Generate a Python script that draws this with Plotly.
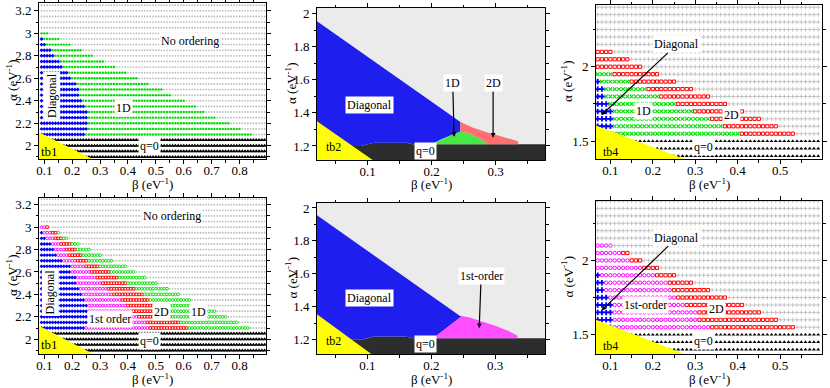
import numpy as np
import plotly.graph_objects as go
from plotly.subplots import make_subplots

FONT = "Liberation Serif, Times New Roman, serif"

# ---------------- tb1 panels (left column): one entry per alpha row ----------------
TB1_PHASE_ALPHA = [3.00, 2.95, 2.90, 2.85, 2.80, 2.75, 2.70, 2.65, 2.60, 2.55,
                   2.50, 2.45, 2.40, 2.35, 2.30, 2.25, 2.20, 2.15, 2.10]
# last beta of each phase in that row (top panel)
TB1_DIAG_END = [0.08, 0.09, 0.10, 0.12, 0.13, 0.15, 0.16, 0.18, 0.19, 0.21,
                0.22, 0.22, 0.23, 0.24, 0.25, 0.25, 0.25, 0.25, 0.24]
TB1_1D_END = [0.11, 0.15, 0.19, 0.23, 0.27, 0.31, 0.35, 0.39, 0.43, 0.47,
              0.52, 0.55, 0.60, 0.64, 0.67, 0.71, 0.76, 0.80, 0.84]
# bottom panel
TB1B_DIAG_END = [0.08, 0.09, 0.10, 0.12, 0.13, 0.14, 0.16, 0.19, 0.19, 0.21,
                 0.21, 0.22, 0.23, 0.24, 0.25, 0.25, 0.25, 0.25, 0.24]
TB1B_FIRST_END = [0.10, 0.12, 0.13, 0.15, 0.17, 0.18, 0.21, 0.24, 0.26, 0.28,
                  0.30, 0.32, 0.34, 0.37, 0.39, 0.41, 0.43, 0.46, 0.47]
TB1B_2D_END = [0.11, 0.14, 0.16, 0.19, 0.21, 0.23, 0.25, 0.29, 0.33, 0.36,
               0.39, 0.42, 0.45, 0.47, 0.49, 0.52, 0.55, 0.58, 0.61]
TB1B_1D_END = [0.11, 0.15, 0.18, 0.22, 0.26, 0.30, 0.34, 0.39, 0.42, 0.46,
               0.50, 0.54, 0.58, 0.62, 0.66, 0.71, 0.75, 0.79, 0.83]
TB1_Q0_ALPHA = [2.05, 2.00, 1.95, 1.90]

# ---------------- tb4 panels (right column) ----------------
TB4_PHASE_ALPHA = [2.10, 2.05, 2.00, 1.95, 1.90, 1.85, 1.80, 1.75, 1.70, 1.65, 1.60, 1.55]
TB4_DIAG_END = [0.06, 0.06, 0.06, 0.06, 0.07, 0.08, 0.08, 0.09, 0.10, 0.10, 0.10, 0.10]
TB4_1D_END = [0.06, 0.06, 0.06, 0.10, 0.14, 0.18, 0.21, 0.25, 0.29, 0.33, 0.36, 0.40]
TB4_2D_END = [0.10, 0.14, 0.17, 0.21, 0.25, 0.29, 0.33, 0.37, 0.41, 0.45, 0.49, 0.53]
TB4B_FIRST_END = [0.10, 0.12, 0.14, 0.17, 0.20, 0.23, 0.24, 0.25, 0.27, 0.30, 0.30, 0.33]
TB4_Q0_ALPHA = [1.50, 1.45, 1.40]

# ---------------- tb2 panels (middle column): phase boundaries ----------------
TB2_Q0_BETA = [0.021, 0.09, 0.10, 0.11, 0.16, 0.17, 0.378]
TB2_Q0_ALPHA = [1.20, 1.20, 1.21, 1.22, 1.22, 1.21, 1.21]
TB2_DIAG_BETA = [0.021, 0.245]
TB2_DIAG_ALPHA = [1.955, 1.345]
TB2_1D_BETA = [0.20, 0.215, 0.23, 0.245, 0.26, 0.275, 0.288]
TB2_1D_ALPHA = [1.21, 1.24, 1.265, 1.288, 1.275, 1.245, 1.21]
TB2_2D_BETA = [0.245, 0.265, 0.285, 0.30, 0.32, 0.335, 0.335]
TB2_2D_ALPHA = [1.345, 1.31, 1.285, 1.267, 1.245, 1.228, 1.21]
TB2_FIRST_BETA = [0.203, 0.22, 0.235, 0.248, 0.26, 0.28, 0.30, 0.32, 0.335, 0.335]
TB2_FIRST_ALPHA = [1.21, 1.26, 1.305, 1.345, 1.335, 1.31, 1.285, 1.255, 1.225, 1.21]

# panel boxes in pixels (left, right, top, bottom) and axis ranges
W, H = 830, 388
BOXES = {1: (39, 266, 3, 159), 2: (317, 545, 8, 160), 3: (596, 822, 5, 159),
         4: (39, 266, 198, 354), 5: (317, 545, 203, 354), 6: (596, 822, 201, 354)}
XRANGES = {1: [0.081, 0.895], 2: [0.021, 0.377], 3: [0.066, 0.599],
           4: [0.081, 0.895], 5: [0.021, 0.378], 6: [0.066, 0.599]}
YRANGES = {1: [1.882, 3.27], 2: [1.115, 2.035], 3: [1.38, 2.415],
           4: [1.868, 3.26], 5: [1.114, 2.03], 6: [1.37, 2.40]}

BLUE, GREEN, RED, MAGENTA = "#0000ff", "#00dd00", "#ff0000", "#ff00ff"


def lattice(beta, rows, phase_rows, ends, q0_rows):
    # sort lattice points into phases; last two groups are "no ordering" and q=0
    n = len(ends)
    xs = [[] for _ in range(n + 2)]
    ys = [[] for _ in range(n + 2)]
    for a in rows:
        for b in beta:
            if a in q0_rows:
                k = n + 1
            elif a in phase_rows:
                i = phase_rows.index(a)
                k = next((j for j in range(n) if b <= ends[j][i] + 1e-6), n)
            else:
                k = n
            xs[k].append(b)
            ys[k].append(a)
    return xs, ys


def add_points(fig, xs, ys, styles, row, col):
    for x, y, st in zip(xs, ys, styles):
        if not x:
            continue
        fig.add_trace(go.Scatter(x=x, y=y, mode="markers", marker=st, hoverinfo="skip"),
                      row=row, col=col)


def add_region(fig, bx, by, fg, bg, row, col):
    fig.add_trace(go.Scatter(x=bx, y=by, mode="lines", fill="toself", line=dict(width=0),
                             fillcolor=bg,
                             fillpattern=dict(shape="|", fgcolor=fg, bgcolor=bg, size=2,
                                              solidity=0.5, fillmode="replace"),
                             hoverinfo="skip"), row=row, col=col)


fig = make_subplots(rows=2, cols=3)

# ---- left column ----
tb1_beta = [round(b, 2) for b in np.arange(0.09, 0.895, 0.01)]
tb1_rows = [round(a, 2) for a in np.arange(1.90, 3.26, 0.05)]
small = dict(gray=dict(symbol="circle", size=1.8, color="#bcbcbc"),
             q0=dict(symbol="triangle-up", size=4, color="black"),
             diag=dict(symbol="diamond", size=3, color=BLUE),
             one=dict(symbol="circle", size=2.4, color=GREEN),
             first=dict(symbol="circle-open", size=2.8, color=MAGENTA, line=dict(width=0.9)),
             two=dict(symbol="square-open", size=2.6, color=RED, line=dict(width=0.9)),
             oneo=dict(symbol="circle-open", size=2.8, color=GREEN, line=dict(width=0.9)))

xs, ys = lattice(tb1_beta, tb1_rows, TB1_PHASE_ALPHA, [TB1_DIAG_END, TB1_1D_END], TB1_Q0_ALPHA)
order = [2, 3, 0, 1]
add_points(fig, [xs[k] for k in order], [ys[k] for k in order],
           [small["gray"], small["q0"], small["diag"], small["one"]], 1, 1)

xs, ys = lattice(tb1_beta, tb1_rows, TB1_PHASE_ALPHA,
                 [TB1B_DIAG_END, TB1B_FIRST_END, TB1B_2D_END, TB1B_1D_END], TB1_Q0_ALPHA)
order = [4, 5, 0, 1, 2, 3]
add_points(fig, [xs[k] for k in order], [ys[k] for k in order],
           [small["gray"], small["q0"], small["diag"], small["first"], small["two"], small["oneo"]], 2, 1)

# ---- right column ----
tb4_beta = [round(b, 2) for b in np.arange(0.07, 0.595, 0.01)]
tb4_rows = [round(a, 2) for a in np.arange(1.40, 2.41, 0.05)]
big = dict(gray=dict(symbol="cross-thin-open", size=3, color="#b8b8b8", line=dict(width=0.8)),
           q0=dict(symbol="triangle-up", size=3.5, color="black"),
           diag=dict(symbol="cross", size=4.6, color=BLUE),
           one=dict(symbol="x-thin-open", size=3.6, color=GREEN, line=dict(width=1.1)),
           first=dict(symbol="circle-open", size=3.4, color=MAGENTA, line=dict(width=1)),
           two=dict(symbol="square-open", size=3.2, color=RED, line=dict(width=1)))

xs, ys = lattice(tb4_beta, tb4_rows, TB4_PHASE_ALPHA, [TB4_DIAG_END, TB4_1D_END, TB4_2D_END], TB4_Q0_ALPHA)
order = [3, 4, 0, 1, 2]
add_points(fig, [xs[k] for k in order], [ys[k] for k in order],
           [big["gray"], big["q0"], big["diag"], big["one"], big["two"]], 1, 3)

xs, ys = lattice(tb4_beta, tb4_rows, TB4_PHASE_ALPHA, [TB4_DIAG_END, TB4B_FIRST_END, TB4_2D_END], TB4_Q0_ALPHA)
add_points(fig, [xs[k] for k in order], [ys[k] for k in order],
           [big["gray"], big["q0"], big["diag"], big["first"], big["two"]], 2, 3)

# ---- middle column (dense lattice drawn as striped regions) ----
for row in (1, 2):
    p = 2 if row == 1 else 5
    x0, x1 = XRANGES[p]
    y0, y1 = YRANGES[p]
    add_region(fig, [x0, x1, x1, x0], [y0, y0, y1, y1], "#d8d8d8", "#ffffff", row, 2)
    add_region(fig, TB2_Q0_BETA + [x1, x0], TB2_Q0_ALPHA + [y0, y0], "#000000", "#5a5a5a", row, 2)
    if row == 1:
        edge_b, edge_a = TB2_1D_BETA[:4][::-1], TB2_1D_ALPHA[:4][::-1]
    else:
        edge_b, edge_a = TB2_FIRST_BETA[:4][::-1], TB2_FIRST_ALPHA[:4][::-1]
    q0_left = [(b, a) for b, a in zip(TB2_Q0_BETA, TB2_Q0_ALPHA) if b < edge_b[-1]][::-1]
    blue_b = TB2_DIAG_BETA + edge_b + [b for b, _ in q0_left]
    blue_a = TB2_DIAG_ALPHA + edge_a + [a for _, a in q0_left]
    add_region(fig, blue_b, blue_a, "#0000e0", "#3c3cff", row, 2)
    if row == 1:
        add_region(fig, TB2_1D_BETA, TB2_1D_ALPHA, "#00d000", "#8cff8c", row, 2)
        red_b = TB2_2D_BETA + TB2_1D_BETA[3:][::-1]
        red_a = TB2_2D_ALPHA + TB2_1D_ALPHA[3:][::-1]
        add_region(fig, red_b, red_a, "#ff2a2a", "#ffb4b4", row, 2)
    else:
        add_region(fig, TB2_FIRST_BETA, TB2_FIRST_ALPHA, "#ff00ff", "#ff9cff", row, 2)

# ---- yellow tb triangles ----
TRI_TOP = {1: 2.12, 2: 1.35, 3: 1.605, 4: 2.12, 5: 1.355, 6: 1.60}
TRI_RIGHT = {1: 0.273, 2: 0.108, 3: 0.275, 4: 0.275, 5: 0.106, 6: 0.275}
for p in range(1, 7):
    x0 = XRANGES[p][0]
    y0 = YRANGES[p][0]
    ax = "" if p == 1 else str(p)
    fig.add_shape(type="path", xref="x" + ax, yref="y" + ax,
                  path=f"M {x0},{TRI_TOP[p]} L {x0},{y0} L {TRI_RIGHT[p]},{y0} Z",
                  fillcolor="#ffff00", line=dict(width=0), layer="above")


def label(text, x, y, p, bg=True, angle=0, size=12, tip=None):
    ax = "" if p == 1 else str(p)
    d = dict(text=text, xref="x" + ax, yref="y" + ax, textangle=angle,
             font=dict(family=FONT, size=size, color="black"), borderpad=1)
    if bg:
        d["bgcolor"] = "white"
    if tip is None:
        d.update(x=x, y=y, showarrow=False)
    else:
        d.update(x=tip[0], y=tip[1], ax=x, ay=y, axref="x" + ax, ayref="y" + ax,
                 showarrow=True, arrowhead=2, arrowsize=0.8, arrowwidth=1.2, arrowcolor="black")
    fig.add_annotation(**d)


label("No ordering", 0.623, 2.93, 1)
label("Diagonal", 0.127, 2.45, 1, angle=-90)
label("1D", 0.383, 2.335, 1)
label("q=0", 0.479, 1.995, 1)
label("tb1", 0.12, 1.95, 1, bg=False, size=13)

label("No ordering", 0.557, 3.095, 4)
label("Diagonal", 0.12, 2.425, 4, angle=-90)
label("1st order", 0.336, 2.18, 4)
label("2D", 0.521, 2.24, 4)
label("1D", 0.653, 2.24, 4)
label("q=0", 0.479, 1.988, 4)
label("tb1", 0.12, 1.95, 4, bg=False, size=13)

label("Diagonal", 0.103, 1.448, 2)
label("tb2", 0.047, 1.196, 2, bg=False)
label("q=0", 0.191, 1.172, 2)
label("1D", 0.233, 1.58, 2, tip=(0.235, 1.255))
label("2D", 0.296, 1.58, 2, tip=(0.296, 1.25))

label("Diagonal", 0.103, 1.452, 5)
label("tb2", 0.047, 1.195, 5, bg=False)
label("q=0", 0.191, 1.174, 5)
label("1st-order", 0.278, 1.587, 5, tip=(0.275, 1.27))

label("Diagonal", 0.257, 2.15, 3, tip=(0.079, 1.675))
label("1D", 0.178, 1.70, 3)
label("2D", 0.386, 1.675, 3)
label("q=0", 0.319, 1.462, 3)
label("tb4", 0.10, 1.43, 3, bg=False)

label("Diagonal", 0.257, 2.153, 6, tip=(0.079, 1.663))
label("1st-order", 0.182, 1.697, 6)
label("2D", 0.351, 1.675, 6)
label("q=0", 0.32, 1.457, 6)
label("tb4", 0.10, 1.427, 6, bg=False)

# ---- axes ----
Y_DTICK = {1: (0.2, 0.1), 2: (0.2, 0.1), 3: (0.5, 0.25), 4: (0.2, 0.1), 5: (0.2, 0.1), 6: (0.5, 0.25)}
Y_TITLE_X = {1: 12, 2: 291, 3: 567}
X_TITLE_Y = {1: 184, 2: 379}
common = dict(showline=True, linecolor="black", linewidth=1, mirror="ticks",
              ticks="outside", ticklen=4, tickwidth=1, tickcolor="black",
              showgrid=False, zeroline=False, automargin=False,
              tickfont=dict(family=FONT, size=13, color="black"))
title_font = dict(family=FONT, size=13, color="black")
for p in range(1, 7):
    l, r, t, b = BOXES[p]
    row, col = (p - 1) // 3 + 1, (p - 1) % 3 + 1
    fig.update_xaxes(domain=[l / W, r / W], range=XRANGES[p], tick0=0, dtick=0.1,
                     ticklabelstandoff=-5,
                     minor=dict(ticks="outside", ticklen=2.5, tickcolor="black", dtick=0.05),
                     row=row, col=col, **common)
    fig.update_yaxes(domain=[1 - b / H, 1 - t / H], range=YRANGES[p], tick0=0, dtick=Y_DTICK[p][0],
                     minor=dict(ticks="outside", ticklen=2.5, tickcolor="black", dtick=Y_DTICK[p][1]),
                     row=row, col=col, **common)
    # axis titles placed in paper coordinates
    fig.add_annotation(text="β (eV<sup>-1</sup>)", xref="paper", yref="paper",
                       x=(l + r) / 2 / W, y=1 - X_TITLE_Y[row] / H, showarrow=False,
                       font=title_font, xanchor="center", yanchor="middle")
    fig.add_annotation(text="α (eV<sup>-1</sup>)", xref="paper", yref="paper", textangle=-90,
                       x=Y_TITLE_X[col] / W, y=1 - (t + b) / 2 / H, showarrow=False,
                       font=title_font, xanchor="center", yanchor="middle")

fig.update_layout(width=W, height=H, margin=dict(l=0, r=0, t=0, b=0),
                  template="none", showlegend=False,
                  paper_bgcolor="white", plot_bgcolor="white",
                  font=dict(family=FONT, size=13, color="black"))

fig.write_html("out.html", config={"displayModeBar": False},
               post_script="document.body.style.margin='0px';")
